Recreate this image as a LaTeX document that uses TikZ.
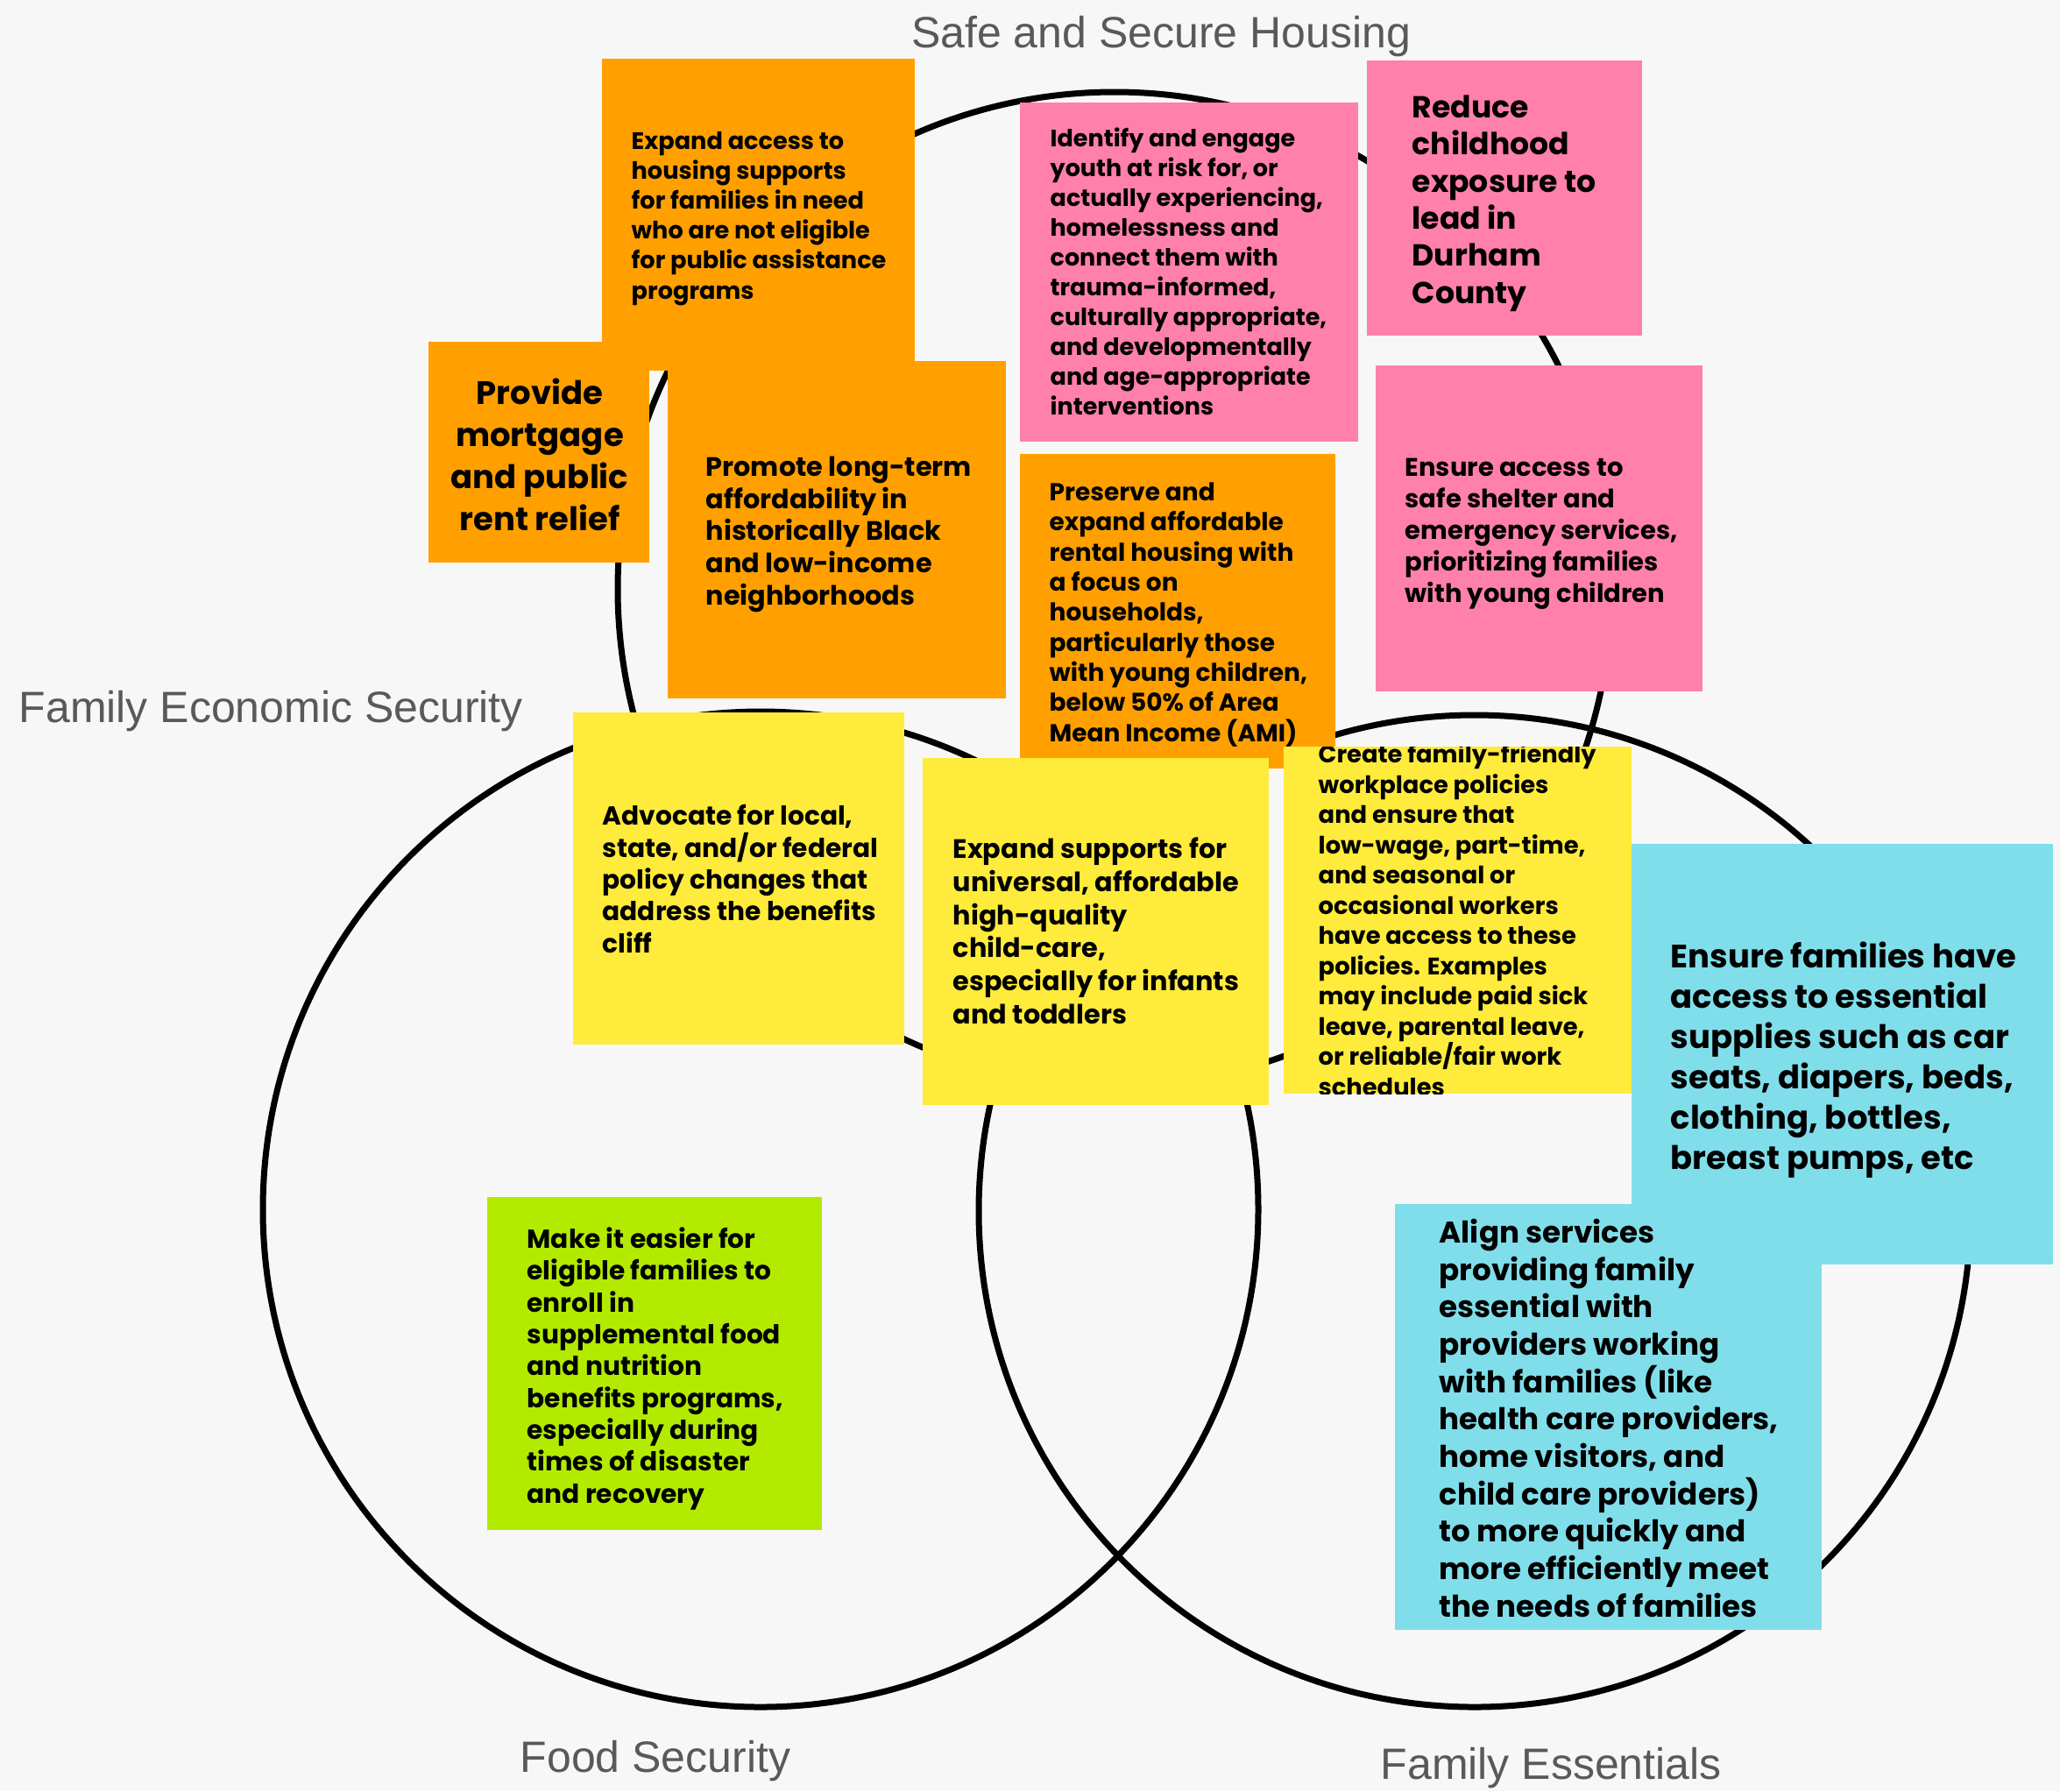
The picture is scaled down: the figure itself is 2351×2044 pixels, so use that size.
\documentclass[tikz,border=0pt]{standalone}
\usepackage{fontspec}
\newfontfamily\notefont{Poppins}
\newfontfamily\setfont{Liberation Sans}
\definecolor{bgcol}{HTML}{F7F7F7}
\definecolor{orangenote}{HTML}{FFA000}
\definecolor{pinknote}{HTML}{FF80AA}
\definecolor{yellownote}{HTML}{FFEB3B}
\definecolor{greennote}{HTML}{B2EB00}
\definecolor{cyannote}{HTML}{80DEEA}
\definecolor{labelgray}{HTML}{595959}

\begin{document}
\begin{tikzpicture}[x=0.3pt, y=-0.3pt,
            ring/.style={draw=black, line width=2.1pt},
            set label/.style={text=labelgray, inner sep=0pt, font=\setfont\fontsize{15}{18}\selectfont},
            note text/.style 2 args={anchor=base west, align=left, inner sep=0pt, font=\notefont\bfseries\fontsize{#1}{#2}\selectfont},
            ]
            \fill[bgcol] (0,0) rectangle (2351,2044);
            \useasboundingbox (0,0) rectangle (2351,2044);

            % the three sets
            \draw[ring] (1272,672) circle [radius=567];
            \draw[ring] (868,1380) circle [radius=568];
            \draw[ring] (1683,1382) circle [radius=566];

            \node[set label, anchor=base] (housing) at (1325,54) {Safe and Secure Housing};
            \node[set label, anchor=base west] (economic) at (21,824) {Family Economic Security};
            \node[set label, anchor=base west] (food) at (593,2022) {Food Security};
            \node[set label, anchor=base west] (essentials) at (1575,2030) {Family Essentials};

            % housing notes (nodes sit on the baseline of their last line)
            \fill[orangenote] (687,67) rectangle (1044,423);
            \node[note text={8.15}{10.26}] (supports) at (720,341) {Expand access to\\housing supports\\for families in need\\who are not eligible\\for public assistance\\programs};
            \fill[orangenote] (489,390) rectangle (741,642);
            \node[note text={11.1}{14.4}, anchor=base, align=center] (relief) at (616,605) {Provide\\mortgage\\and public\\rent relief};
            \fill[orangenote] (762,412) rectangle (1148,797);
            \node[note text={9.1}{11}] (promote) at (805,690) {Promote long-term\\affordability in\\historically Black\\and low-income\\neighborhoods};
            \fill[pinknote] (1164,117) rectangle (1550,504);
            \node[note text={8.1}{10.2}] (youth) at (1198,473) {Identify and engage\\youth at risk for, or\\actually experiencing,\\homelessness and\\connect them with\\trauma-informed,\\culturally appropriate,\\and developmentally\\and age-appropriate\\interventions};
            \fill[pinknote] (1560,69) rectangle (1874,383);
            \node[note text={10.4}{12.7}] (lead) at (1611,346) {Reduce\\childhood\\exposure to\\lead in\\Durham\\County};
            \fill[pinknote] (1570,417) rectangle (1943,789);
            \node[note text={8.7}{10.8}] (shelter) at (1603,687) {Ensure access to\\safe shelter and\\emergency services,\\prioritizing families\\with young children};
            \fill[orangenote] (1164,518) rectangle (1524,877);
            \node[note text={8.4}{10.3}] (rental) at (1197,846) {Preserve and\\expand affordable\\rental housing with\\a focus on\\households,\\particularly those\\with young children,\\below 50\% of Area\\Mean Income (AMI)};

            % economic security notes
            \fill[yellownote] (654,813) rectangle (1032,1192);
            \node[note text={8.9}{10.9}] (cliff) at (687,1087) {Advocate for local,\\state, and/or federal\\policy changes that\\address the benefits\\cliff};
            \fill[yellownote] (1053,865) rectangle (1448,1261);
            \node[note text={9.1}{11.3}] (childcare) at (1087,1168) {Expand supports for\\universal, affordable\\high-quality\\child-care,\\especially for infants\\and toddlers};
            \begin{scope}
                \clip (1465,852) rectangle (1862,1248);
                \fill[yellownote] (1465,852) rectangle (1862,1248);
                \node[note text={8.2}{10.35}] (workplace) at (1504,1250) {Create family-friendly\\workplace policies\\and ensure that\\low-wage, part-time,\\and seasonal or\\occasional workers\\have access to these\\policies. Examples\\may include paid sick\\leave, parental leave,\\or reliable/fair work\\schedules};
            \end{scope}

            % family essentials notes
            \fill[cyannote] (1862,963) rectangle (2343,1443);
            \node[note text={11.1}{13.8}] (supplies) at (1906,1334) {Ensure families have\\access to essential\\supplies such as car\\seats, diapers, beds,\\clothing, bottles,\\breast pumps, etc};
            \fill[cyannote] (1592,1374) rectangle (2079,1860);
            \node[note text={10.25}{12.8}] (align) at (1642,1845) {Align services\\providing family\\essential with\\providers working\\with families (like\\health care providers,\\home visitors, and\\child care providers)\\to more quickly and\\more efficiently meet\\the needs of families};

            % food security note
            \fill[greennote] (556,1366) rectangle (938,1746);
            \node[note text={8.9}{10.9}] (enroll) at (601,1715) {Make it easier for\\eligible families to\\enroll in\\supplemental food\\and nutrition\\benefits programs,\\especially during\\times of disaster\\and recovery};
        \end{tikzpicture}
\end{document}
